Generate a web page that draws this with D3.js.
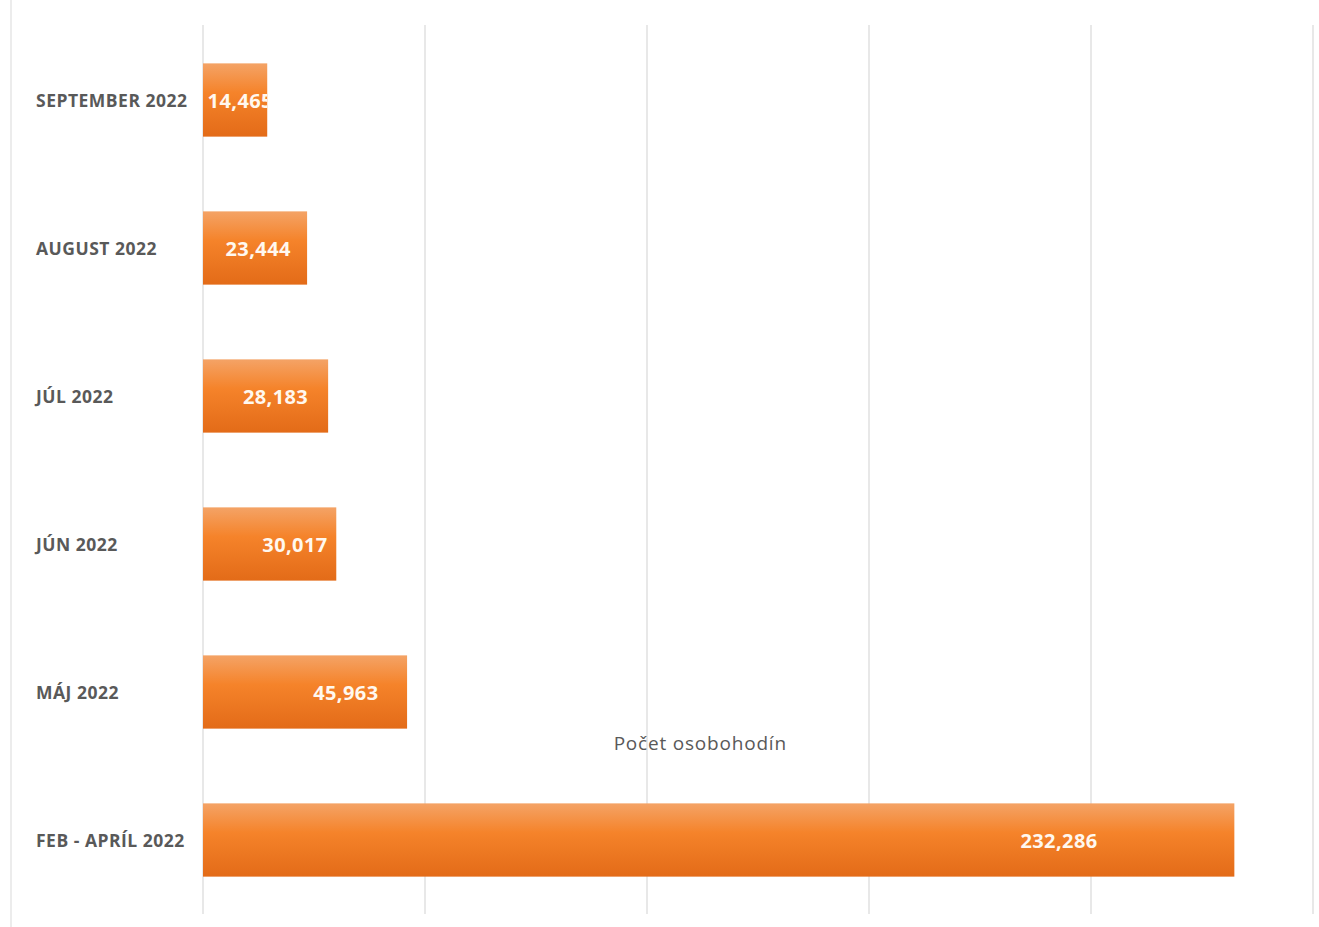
<!DOCTYPE html>
<html><head><meta charset="utf-8">
<script src="https://cdn.jsdelivr.net/npm/d3@7"></script>
<style>
html,body{margin:0;padding:0;background:#fff;}
svg{display:block;}
</style></head>
<body>
<svg id="c" width="1319" height="927"></svg>
<script>
const categories = ["SEPTEMBER 2022","AUGUST 2022","JÚL 2022","JÚN 2022","MÁJ 2022","FEB - APRÍL 2022"];
const values = [14465, 23444, 28183, 30017, 45963, 232286];
const valueLabels = ["14,465","23,444","28,183","30,017","45,963","232,286"];
const xTicks = [0, 50000, 100000, 150000, 200000, 250000];
const axisTitle = "Počet osobohodín";

// label placement within each bar (fraction of bar length, label center)
const labelFrac = [0.58, 0.53, 0.58, 0.69, 0.70, 0.83];

const svg = d3.select("#c");
const x = d3.scaleLinear().domain([0, 250000]).range([203, 1313]);
const y = d3.scaleBand().domain(categories).range([26, 914]).paddingInner(0.505).paddingOuter(0.2525);

// outer left border
svg.append("line").attr("x1",11).attr("x2",11).attr("y1",0).attr("y2",927)
  .attr("stroke","#e6e6e6").attr("stroke-width",1.5);

// gradient
const defs = svg.append("defs");
const g = defs.append("linearGradient").attr("id","barGrad").attr("x1",0).attr("x2",0).attr("y1",0).attr("y2",1);
g.append("stop").attr("offset","0%").attr("stop-color","#f4a366");
g.append("stop").attr("offset","40%").attr("stop-color","#f5832a");
g.append("stop").attr("offset","100%").attr("stop-color","#e36b18");

// gridlines
svg.append("g").selectAll("line").data(xTicks).join("line")
  .attr("x1", d=>x(d)).attr("x2", d=>x(d)).attr("y1", 25).attr("y2", 914)
  .attr("stroke","#d9d9d9").attr("stroke-width",1.2);

// axis title
svg.append("text").attr("x", x(112000)).attr("y", 750).attr("text-anchor","middle")
  .attr("font-family","'Open Sans', 'Noto Sans', sans-serif").attr("font-size",19)
  .attr("letter-spacing",0.8)
  .attr("fill","#595959").text(axisTitle);

// bars
const bars = svg.append("g");
bars.selectAll("rect").data(values).join("rect")
  .attr("x", x(0)).attr("y", (d,i)=>y(categories[i]))
  .attr("width", d=>x(d)-x(0)).attr("height", y.bandwidth())
  .attr("fill","url(#barGrad)");

// clip paths
defs.selectAll("clipPath").data(values).join("clipPath")
  .attr("id",(d,i)=>"clip"+i)
  .append("rect").attr("x", x(0)).attr("y",(d,i)=>y(categories[i]))
  .attr("width", d=>x(d)-x(0)).attr("height", y.bandwidth());

// value labels
svg.append("g").selectAll("text").data(values).join("text")
  .attr("clip-path",(d,i)=>`url(#clip${i})`)
  .attr("x",(d,i)=>x(d*labelFrac[i]))
  .attr("y",(d,i)=>y(categories[i]) + y.bandwidth()/2 + 8)
  .attr("text-anchor","middle")
  .attr("font-family","'Open Sans', 'Noto Sans', sans-serif").attr("font-weight",700)
  .attr("font-size",20).attr("fill","#fff8ef")
  .attr("letter-spacing",0.4)
  .text((d,i)=>valueLabels[i]);

// category labels
svg.append("g").selectAll("text").data(categories).join("text")
  .attr("x",36).attr("y",d=>y(d)+y.bandwidth()/2+7)
  .attr("font-family","'Open Sans', 'Noto Sans', sans-serif").attr("font-weight",700)
  .attr("font-size",17.5).attr("fill","#595959").attr("letter-spacing",0.5)
  .text(d=>d);
</script>
</body></html>
